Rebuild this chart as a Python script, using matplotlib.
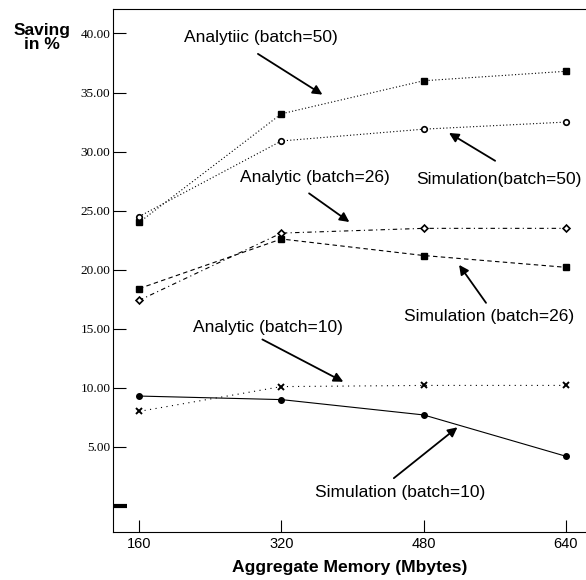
import matplotlib
matplotlib.use("Agg")
import matplotlib.pyplot as plt

memory = [160, 320, 480, 640]
analytic_50 = [24.0, 33.2, 36.0, 36.8]
simulation_50 = [24.5, 30.9, 31.9, 32.5]
analytic_26 = [17.4, 23.1, 23.5, 23.5]
simulation_26 = [18.4, 22.6, 21.2, 20.2]
analytic_10 = [8.0, 10.1, 10.2, 10.2]
simulation_10 = [9.3, 9.0, 7.7, 4.2]

yticks = [0, 5, 10, 15, 20, 25, 30, 35, 40]
ytick_labels = ["", "5.00", "10.00", "15.00", "20.00", "25.00", "30.00", "35.00", "40.00"]

plt.rcParams['font.family'] = ['Liberation Sans', 'DejaVu Sans']

fig = plt.figure(figsize=(5.86, 5.80), dpi=100)
ax = fig.add_axes([0.193, 0.083, 0.807, 0.902])

lw = 0.8
ms = 4
ax.plot(memory, analytic_50, linestyle=(0, (1, 2)), color='black', lw=lw,
        marker='s', ms=ms, mfc='black', mec='black')
ax.plot(memory, simulation_50, linestyle=(0, (1, 2)), color='black', lw=lw,
        marker='o', ms=ms, mfc='white', mec='black', mew=1.2)
ax.plot(memory, analytic_26, linestyle=(0, (4, 3, 1, 3)), color='black', lw=lw,
        marker='D', ms=3.5, mfc='white', mec='black', mew=1.2)
ax.plot(memory, simulation_26, linestyle=(0, (4, 3)), color='black', lw=lw,
        marker='s', ms=ms, mfc='black', mec='black')
ax.plot(memory, analytic_10, linestyle=(0, (1, 4)), color='black', lw=lw,
        marker='x', ms=ms, mec='black', mew=1.4)
ax.plot(memory, simulation_10, linestyle='-', color='black', lw=lw,
        marker='o', ms=ms, mfc='black', mec='black')

ax.set_xlim(130.8, 662.5)
ax.set_ylim(-2.2, 42.1)

ax.set_xticks(memory)
ax.set_xticklabels([str(m) for m in memory], fontsize=10.5)
ax.set_yticks(yticks)
ax.set_yticklabels(ytick_labels, family='Liberation Serif', fontsize=9.5)
ax.tick_params(axis='both', direction='in', length=9, width=0.8, pad=4)
ax.tick_params(axis='y', pad=2)
# the unlabelled zero tick is drawn heavier
t0 = ax.yaxis.get_major_ticks()[0]
t0.tick1line.set_markeredgewidth(3)
t0.tick1line.set_markersize(10)

ax.spines['right'].set_visible(False)
for s in ['left', 'bottom', 'top']:
    ax.spines[s].set_linewidth(0.8)

ax.set_xlabel("Aggregate Memory (Mbytes)", fontsize=12.6, fontweight='bold', labelpad=6)
fig.text(0.072, 0.935, "Saving\nin %", fontsize=12.5, fontweight='bold',
         ha='center', va='center', linespacing=0.95)

arrow = dict(arrowstyle='-|>', color='black', lw=1.3, mutation_scale=14)
fs = 12.5
labels = [
    # text, text pos, arrow tail, arrow head
    ("Analytiic (batch=50)", (297, 39.7), (291, 38.4), (368.8, 34.7)),
    ("Simulation(batch=50)", (564, 27.6), (563, 29.1), (505.8, 31.7)),
    ("Analytic (batch=26)", (357.6, 27.8), (348.6, 26.6), (399, 23.9)),
    ("Simulation (batch=26)", (553, 16.0), (551.9, 17.0), (518, 20.6)),
    ("Analytic (batch=10)", (304.8, 15.1), (295.9, 14.2), (392.4, 10.4)),
    ("Simulation (batch=10)", (454, 1.1), (444, 2.2), (520.4, 6.8)),
]
for txt, pos, tail, head in labels:
    ax.text(pos[0], pos[1], txt, ha='center', va='center', fontsize=fs)
    ax.annotate("", xy=head, xytext=tail, arrowprops=arrow)

fig.savefig("out.png", dpi=100)
